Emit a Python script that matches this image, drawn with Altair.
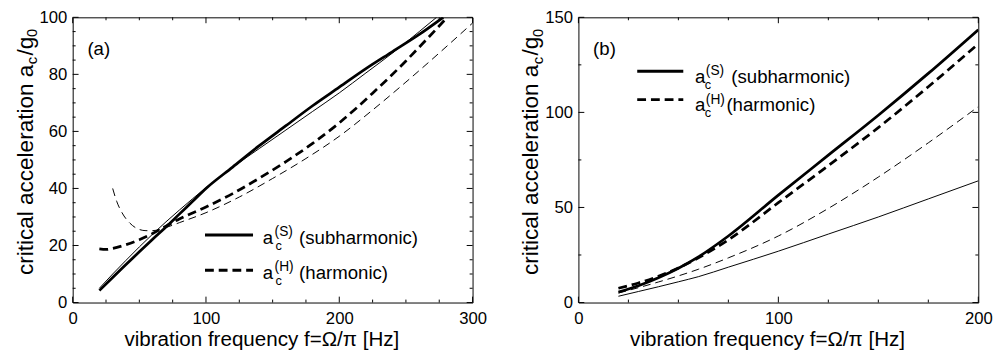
import altair as alt
import pandas as pd

FONT = "Liberation Sans, Arial, Helvetica, sans-serif"

# ---------------- data: panel (a) ----------------
a_S_exp_f = [20, 30, 40, 50, 60, 70, 80, 90, 100, 120, 140, 160, 180, 200, 220, 240, 260, 278]
a_S_exp_y = [4.2, 8.8, 13.3, 17.8, 22.2, 26.5, 31.0, 35.5, 40.0, 47.5, 55.0, 62.0, 69.0, 75.5, 82.0, 88.0, 94.0, 100.0]
a_S_th_f = [20, 30, 40, 50, 60, 70, 80, 90, 100, 120, 140, 160, 180, 200, 220, 240, 260, 273]
a_S_th_y = [5.0, 10.0, 14.8, 19.5, 24.0, 28.3, 32.4, 36.4, 40.3, 47.4, 54.0, 60.5, 67.0, 73.5, 80.5, 87.5, 95.0, 100.0]
a_H_exp_f = [20, 25, 30, 40, 50, 60, 70, 80, 100, 120, 140, 160, 180, 200, 225, 250, 265, 281]
a_H_exp_y = [18.8, 18.6, 19.0, 20.3, 22.0, 24.2, 26.8, 29.3, 33.5, 38.2, 43.6, 49.4, 55.8, 63.0, 73.4, 84.7, 92.0, 100.0]
a_H_th_f = [30, 33, 37, 43, 49, 55, 60, 65, 70, 80, 100, 125, 150, 175, 200, 225, 250, 275, 300]
a_H_th_y = [40.0, 35.5, 31.5, 27.8, 25.8, 25.2, 25.2, 25.6, 26.3, 28.0, 31.5, 37.0, 43.5, 50.5, 58.3, 67.5, 77.3, 87.5, 98.0]

# ---------------- data: panel (b) ----------------
b_f = [20, 30, 40, 50, 60, 75, 100, 125, 150, 175, 200]
b_S_exp_y = [5.5, 8.8, 13.0, 18.0, 24.0, 35.0, 56.5, 77.5, 98.5, 120.5, 143.5]
b_H_exp_y = [7.5, 10.3, 13.8, 18.2, 23.5, 33.0, 52.5, 72.0, 92.0, 113.5, 136.0]
b_H_th_y = [5.0, 7.8, 10.8, 14.0, 17.5, 23.5, 35.0, 49.5, 66.0, 84.0, 103.0]
b_S_th_y = [3.3, 5.8, 8.3, 10.9, 13.6, 18.6, 27.0, 36.0, 45.0, 54.5, 64.0]

# ---------------- axis ticks ----------------
a_x_major = [0, 100, 200, 300]
a_x_minor = [25, 50, 75, 125, 150, 175, 225, 250, 275]
a_y_major = [0, 20, 40, 60, 80, 100]
a_y_minor = [v for v in range(5, 100, 5) if v % 20 != 0]
b_x_major = [0, 100, 200]
b_x_minor = [25, 50, 75, 125, 150, 175]
b_y_major = [0, 50, 100, 150]
b_y_minor = [25, 75, 125]

W, H = 408, 291
ONE = pd.DataFrame({"k": [0]})

THICK, THIN = 2.8, 1.0
DASH_THICK = [9, 5]
DASH_THIN = [8, 5]


def txt(s, x, y, size, angle=0, align="left", baseline="alphabetic"):
    props = dict(text=s, fontSize=size, font=FONT, align=align, baseline=baseline, color="black")
    if angle:
        props["angle"] = angle
    return alt.Chart(ONE).mark_text(**props).encode(x=alt.value(x), y=alt.value(y))


def seg(x1, x2, y, width, dash=None):
    props = dict(color="black", strokeWidth=width)
    if dash:
        props["strokeDash"] = dash
    return alt.Chart(ONE).mark_rule(**props).encode(x=alt.value(x1), x2=alt.value(x2), y=alt.value(y))


def panel(xdom, ydom, xmaj, xmin, ymaj, ymin, curves, legend_rows, label):
    xs = alt.Scale(domain=xdom, nice=False, zero=False)
    ys = alt.Scale(domain=ydom, nice=False, zero=False)
    xax = alt.Axis(values=xmaj, format="d", labelFontSize=17, labelFont=FONT, labelColor="black",
                   ticks=False, tickSize=0, domain=False, grid=False, labelPadding=8, labelFlush=False)
    yax = alt.Axis(values=ymaj, format="d", labelFontSize=17, labelFont=FONT, labelColor="black",
                   ticks=False, tickSize=0, domain=False, grid=False, labelPadding=6, labelFlush=False)

    def X():
        return alt.X("f:Q", scale=xs, axis=xax, title=None)

    def Y():
        return alt.Y("y:Q", scale=ys, axis=yax, title=None)

    layers = []
    for f, y, width, dash in curves:
        mk = dict(color="black", strokeWidth=width, interpolate="monotone", clip=True)
        if dash:
            mk["strokeDash"] = dash
        layers.append(alt.Chart(pd.DataFrame({"f": f, "y": y})).mark_line(**mk).encode(x=X(), y=Y()))

    # inward ticks on all four sides
    for vals, L in ((xmaj, 6), (xmin, 3)):
        d = pd.DataFrame({"f": vals})
        layers.append(alt.Chart(d).mark_rule(color="black", strokeWidth=1).encode(x=X(), y=alt.value(H), y2=alt.value(H - L)))
        layers.append(alt.Chart(d).mark_rule(color="black", strokeWidth=1).encode(x=X(), y=alt.value(0), y2=alt.value(L)))
    for vals, L in ((ymaj, 6), (ymin, 3)):
        d = pd.DataFrame({"y": vals})
        layers.append(alt.Chart(d).mark_rule(color="black", strokeWidth=1).encode(y=Y(), x=alt.value(0), x2=alt.value(L)))
        layers.append(alt.Chart(d).mark_rule(color="black", strokeWidth=1).encode(y=Y(), x=alt.value(W), x2=alt.value(W - L)))

    # legend
    for (lx1, lx2, ly, width, dash, ax, bl, subx, supx, sup, mainx, main) in legend_rows:
        layers.append(seg(lx1, lx2, ly, width, dash))
        layers.append(txt("a", ax, bl, 19))
        layers.append(txt("c", subx, bl + 6, 13))
        layers.append(txt(sup, supx, bl - 8, 14))
        layers.append(txt(main, mainx, bl, 19))

    # panel label
    layers.append(txt(label, 15, 38, 19))

    # x title
    layers.append(txt("vibration frequency f=\u03a9/\u03c0 [Hz]", 193, 335, 21, align="center"))

    # y title (rotated, with subscripts)
    layers.append(txt("critical acceleration a", -41, 263, 23, angle=270))
    layers.append(txt("c", -36, 48, 15, angle=270))
    layers.append(txt("/g", -41, 39, 23, angle=270))
    layers.append(txt("0", -36, 20, 15, angle=270))

    return alt.layer(*layers).properties(width=W, height=H)


pa = panel(
    [0, 300], [0, 100], a_x_major, a_x_minor, a_y_major, a_y_minor,
    [
        (a_S_th_f, a_S_th_y, THIN, None),
        (a_H_th_f, a_H_th_y, THIN, DASH_THIN),
        (a_S_exp_f, a_S_exp_y, THICK, None),
        (a_H_exp_f, a_H_exp_y, THICK, DASH_THICK),
    ],
    [
        (135, 184, 222, 3, None, 194, 231, 207, 206, "(S)", 231, "(subharmonic)"),
        (135, 184, 258, 3, DASH_THICK, 194, 267, 207, 206, "(H)", 231, "(harmonic)"),
    ],
    "(a)",
)

pb = panel(
    [0, 200], [0, 150], b_x_major, b_x_minor, b_y_major, b_y_minor,
    [
        (b_f, b_S_th_y, THIN, None),
        (b_f, b_H_th_y, THIN, DASH_THIN),
        (b_f, b_S_exp_y, THICK, None),
        (b_f, b_H_exp_y, THICK, DASH_THICK),
    ],
    [
        (60, 107, 55, 3, None, 119, 67, 129, 130, "(S)", 156, "(subharmonic)"),
        (60, 107, 84, 3, DASH_THICK, 119, 96, 129, 130, "(H)", 151, "(harmonic)"),
    ],
    "(b)",
)

chart = (
    alt.hconcat(pa, pb, spacing=33)
    .properties(padding={"left": 6, "top": -4, "right": 0, "bottom": 0})
    .configure_view(stroke="black", strokeWidth=1)
)

chart.save("out.html", embed_options={"renderer": "svg", "actions": False})
